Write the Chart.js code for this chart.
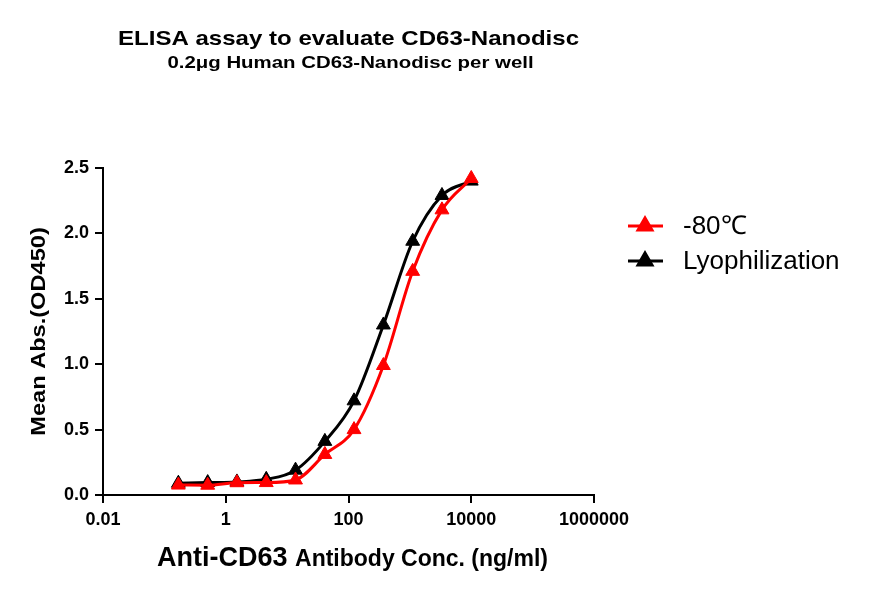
<!DOCTYPE html>
<html>
<head>
<meta charset="utf-8">
<script src="https://cdn.jsdelivr.net/npm/chart.js@4"></script>
<style>
  html, body { margin: 0; padding: 0; background: #fff; }
</style>
</head>
<body>
<canvas id="chart" width="869" height="596"></canvas>
<script>
// 3-fold dilution series, ng/ml
const concentrations = [0.169, 0.508, 1.52, 4.57, 13.7, 41.2, 123, 370, 1111, 3333, 10000];
const minus80 = [0.076, 0.075, 0.094, 0.095, 0.115, 0.31, 0.50, 0.99, 1.71, 2.18, 2.42];
const lyophilization = [0.09, 0.095, 0.10, 0.12, 0.19, 0.41, 0.72, 1.30, 1.94, 2.29, 2.40];
const seriesNames = ["-80℃", "Lyophilization"];
const seriesColors = ["#ff0000", "#000000"];
const xTicks = [0.01, 1, 100, 10000, 1000000];
const yTicks = [0, 0.5, 1, 1.5, 2, 2.5];

const FONT = "'Liberation Sans', Arial, sans-serif";

const toPoints = vals => concentrations.map((c, i) => ({ x: c, y: vals[i] }));

const makeSet = (label, vals, color) => ({
  label,
  data: toPoints(vals),
  borderColor: color,
  backgroundColor: color,
  borderWidth: 3,
  pointStyle: "triangle",
  pointRadius: 8,
  pointBorderWidth: 1,
  pointBackgroundColor: color,
  pointBorderColor: color,
  cubicInterpolationMode: "monotone",
  clip: false
});

// text in the source image is a bit wider than the font, so stretch it sideways
function wideText(ctx, text, x, y, font, sx, rot) {
  ctx.save();
  ctx.font = font;
  ctx.translate(x, y);
  if (rot) ctx.rotate(rot);
  ctx.scale(sx, 1);
  ctx.textAlign = "center";
  ctx.fillText(text, 0, 0);
  ctx.restore();
}

// Titles, axis titles and legend drawn straight onto the canvas
const textPlugin = {
  id: "texts",
  afterDraw(chart) {
    const ctx = chart.ctx;
    const area = chart.chartArea;
    const cx = (area.left + area.right) / 2;
    ctx.save();
    ctx.fillStyle = "#000";
    ctx.textBaseline = "alphabetic";

    wideText(ctx, "ELISA assay to evaluate CD63-Nanodisc", cx, 45, "bold 21px " + FONT, 1.145);
    wideText(ctx, "0.2μg Human CD63-Nanodisc per well", cx + 2, 68, "bold 17px " + FONT, 1.2);

    // y axis title
    wideText(ctx, "Mean Abs.(OD450)", 45, (area.top + area.bottom) / 2, "bold 19.5px " + FONT, 1.21, -Math.PI / 2);

    // x axis title with two sizes
    const big = "Anti-CD63 ";
    const small = "Antibody Conc. (ng/ml)";
    ctx.font = "bold 27px " + FONT;
    const wBig = ctx.measureText(big).width;
    ctx.font = "bold 23px " + FONT;
    const wSmall = ctx.measureText(small).width;
    const x0 = cx + 4 - (wBig + wSmall) / 2;
    ctx.textAlign = "left";
    ctx.font = "bold 27px " + FONT;
    ctx.fillText(big, x0, 566);
    ctx.font = "bold 23px " + FONT;
    ctx.fillText(small, x0 + wBig, 566);

    // legend
    const rows = [226, 261];
    ctx.font = "26px " + FONT;
    ctx.textBaseline = "middle";
    seriesNames.forEach((name, i) => {
      const y = rows[i];
      ctx.strokeStyle = seriesColors[i];
      ctx.fillStyle = seriesColors[i];
      ctx.lineWidth = 3;
      ctx.beginPath();
      ctx.moveTo(628, y);
      ctx.lineTo(663, y);
      ctx.stroke();
      Chart.helpers.drawPoint(ctx, { pointStyle: "triangle", radius: 8, borderWidth: 1 }, 645, y);
      ctx.fillStyle = "#000";
      ctx.fillText(name, 683, y + 1);
    });
    ctx.restore();
  }
};

new Chart(document.getElementById("chart"), {
  type: "line",
  data: {
    datasets: [
      makeSet(seriesNames[0], minus80, seriesColors[0]),
      makeSet(seriesNames[1], lyophilization, seriesColors[1])
    ]
  },
  options: {
    responsive: false,
    animation: false,
    layout: { padding: { top: 168, right: 275, left: 0, bottom: 0 } },
    plugins: {
      legend: { display: false },
      title: { display: false },
      tooltip: { enabled: false }
    },
    scales: {
      x: {
        type: "logarithmic",
        min: 0.01,
        max: 1000000,
        afterBuildTicks: s => { s.ticks = xTicks.map(v => ({ value: v })); },
        afterFit: s => { s.height = 101; },
        grid: { drawOnChartArea: false, drawTicks: true, tickLength: 8, color: "#000", lineWidth: 2 },
        border: { display: true, color: "#000", width: 2 },
        ticks: {
          color: "#000",
          padding: 6,
          maxRotation: 0,
          autoSkip: false,
          font: { family: FONT, size: 18, weight: "bold" },
          callback: v => String(v)
        }
      },
      y: {
        min: 0,
        max: 2.5,
        afterBuildTicks: s => { s.ticks = yTicks.map(v => ({ value: v })); },
        afterFit: s => { s.width = 103; },
        grid: { drawOnChartArea: false, drawTicks: true, tickLength: 8, color: "#000", lineWidth: 2 },
        border: { display: true, color: "#000", width: 2 },
        ticks: {
          color: "#000",
          padding: 6,
          font: { family: FONT, size: 18, weight: "bold" },
          callback: v => Number(v).toFixed(1)
        }
      }
    }
  },
  plugins: [textPlugin]
});
</script>
</body>
</html>
